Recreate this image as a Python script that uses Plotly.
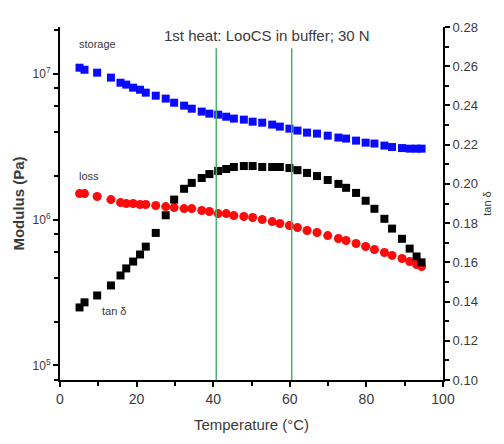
import plotly.graph_objects as go

# Temperatures (°C) of the measurement points
temps = [5.1, 6.4, 9.7, 13.3, 15.8, 17.3, 19.1, 20.9, 22.4, 25.0,
         27.6, 29.8, 32.4, 34.4, 37.0, 39.0, 41.3, 43.4, 45.4, 48.0,
         50.3, 52.8, 55.4, 57.4, 59.9, 62.0, 64.5, 67.1, 69.9, 72.7,
         74.7, 77.3, 79.8, 82.1, 84.7, 86.7, 89.3, 91.3, 93.1, 94.4]

# log10 of storage modulus (Pa)
storage_log = [7.041, 7.027, 7.007, 6.973, 6.938, 6.925, 6.904, 6.890, 6.870, 6.849,
               6.829, 6.801, 6.781, 6.760, 6.740, 6.726, 6.719, 6.705, 6.692, 6.685,
               6.671, 6.664, 6.651, 6.637, 6.623, 6.610, 6.596, 6.589, 6.575, 6.562,
               6.555, 6.541, 6.527, 6.521, 6.507, 6.497, 6.490, 6.486, 6.486, 6.486]

# log10 of loss modulus (Pa)
loss_log = [6.178, 6.178, 6.158, 6.137, 6.116, 6.110, 6.110, 6.103, 6.103, 6.096,
            6.089, 6.082, 6.075, 6.075, 6.062, 6.055, 6.041, 6.041, 6.027, 6.021,
            6.014, 6.000, 5.986, 5.973, 5.959, 5.945, 5.925, 5.911, 5.890, 5.870,
            5.856, 5.836, 5.815, 5.795, 5.774, 5.754, 5.733, 5.712, 5.692, 5.678]

# tan delta
tan_delta = [0.137, 0.1396, 0.1431, 0.1482, 0.1533, 0.1569, 0.1604, 0.164, 0.168, 0.175,
             0.184, 0.192, 0.1975, 0.2005, 0.203, 0.205, 0.2066, 0.2076, 0.2086, 0.2091,
             0.2091, 0.2086, 0.2086, 0.2086, 0.2081, 0.207, 0.2056, 0.204, 0.202, 0.200,
             0.198, 0.1954, 0.1914, 0.1873, 0.1822, 0.1772, 0.172, 0.167, 0.163, 0.160]

storage = [10 ** v for v in storage_log]
loss = [10 ** v for v in loss_log]

marker_temps = [40.8, 60.5]

x_ticks = [0, 20, 40, 60, 80, 100]
y_ticks = [1e5, 1e6, 1e7]
y_ticktext = ["10<sup>5</sup>", "10<sup>6</sup>", "10<sup>7</sup>"]
y_minor = [m * 10 ** e for e in (4, 5, 6, 7) for m in (2, 4, 6, 8)]
tan_ticks = [0.10, 0.12, 0.14, 0.16, 0.18, 0.20, 0.22, 0.24, 0.26, 0.28]

FONT = "Liberation Sans Narrow, Arial Narrow, Liberation Sans, Arial, sans-serif"
TXT = "#3a3a3a"

fig = go.Figure()
fig.add_trace(go.Scatter(x=temps, y=storage, mode="markers", name="storage",
                         marker=dict(symbol="square", size=8, color="#0a0aff", line=dict(width=0))))
fig.add_trace(go.Scatter(x=temps, y=loss, mode="markers", name="loss",
                         marker=dict(symbol="circle", size=9, color="#ff0a0a", line=dict(width=0))))
fig.add_trace(go.Scatter(x=temps, y=tan_delta, mode="markers", name="tan δ", yaxis="y2",
                         marker=dict(symbol="square", size=8, color="#000000", line=dict(width=0))))

for t in marker_temps:
    fig.add_shape(type="line", x0=t, x1=t, xref="x", yref="paper", y0=0, y1=0.94,
                  line=dict(color="#4caf6e", width=1.5), layer="above")

fig.add_annotation(x=54, y=0.977, xref="x", yref="paper", text="1st heat: LooCS in buffer; 30 N",
                   showarrow=False, yanchor="middle", font=dict(family=FONT, size=15, color=TXT))
fig.add_annotation(x=4.5, y=0.952, xref="x", yref="paper", text="storage", xanchor="left",
                   yanchor="middle", showarrow=False, font=dict(family=FONT, size=11, color=TXT))
fig.add_annotation(x=4.5, y=0.578, xref="x", yref="paper", text="loss", xanchor="left",
                   yanchor="middle", showarrow=False, font=dict(family=FONT, size=11, color=TXT))
fig.add_annotation(x=10.5, y=0.195, xref="x", yref="paper", text="tan δ", xanchor="left",
                   yanchor="middle", showarrow=False, font=dict(family=FONT, size=11, color=TXT))

fig.update_layout(
    width=504, height=444,
    margin=dict(l=60, r=52, t=27, b=64),
    paper_bgcolor="white", plot_bgcolor="white",
    showlegend=False,
    font=dict(family=FONT, size=13, color=TXT),
    xaxis=dict(range=[0, 100], tickvals=x_ticks, showgrid=False, zeroline=False,
               showline=True, linecolor="black", linewidth=2,
               ticks="outside", ticklen=5, tickwidth=2, tickcolor="black",
               minor=dict(dtick=10, tick0=0, ticks="outside", ticklen=4, tickwidth=2, tickcolor="black"),
               title=dict(text="Temperature (°C)", font=dict(family=FONT, size=15, color=TXT), standoff=14),
               tickfont=dict(family=FONT, size=14, color=TXT)),
    yaxis=dict(type="log", range=[4.9, 7.32], tickvals=y_ticks, ticktext=y_ticktext,
               showgrid=False, zeroline=False, showline=True, linecolor="black", linewidth=2,
               ticks="outside", ticklen=5, tickwidth=2, tickcolor="black",
               minor=dict(tickvals=y_minor, ticks="outside", ticklen=4, tickwidth=2, tickcolor="black"),
               title=dict(text="<b>Modulus (Pa)</b>", font=dict(family=FONT, size=15, color=TXT), standoff=4),
               tickfont=dict(family=FONT, size=12, color=TXT)),
    yaxis2=dict(range=[0.10, 0.28], tickvals=tan_ticks, tickformat=".2f", overlaying="y", side="right",
                showgrid=False, zeroline=False, showline=True, linecolor="black", linewidth=2,
                ticks="outside", ticklen=5, tickwidth=2, tickcolor="black",
                minor=dict(dtick=0.01, tick0=0.10, ticks="outside", ticklen=4, tickwidth=2, tickcolor="black"),
                title=dict(text="tan δ", font=dict(family=FONT, size=11, color=TXT), standoff=6),
                tickfont=dict(family=FONT, size=13, color=TXT)),
)

fig.write_html("out.html")
